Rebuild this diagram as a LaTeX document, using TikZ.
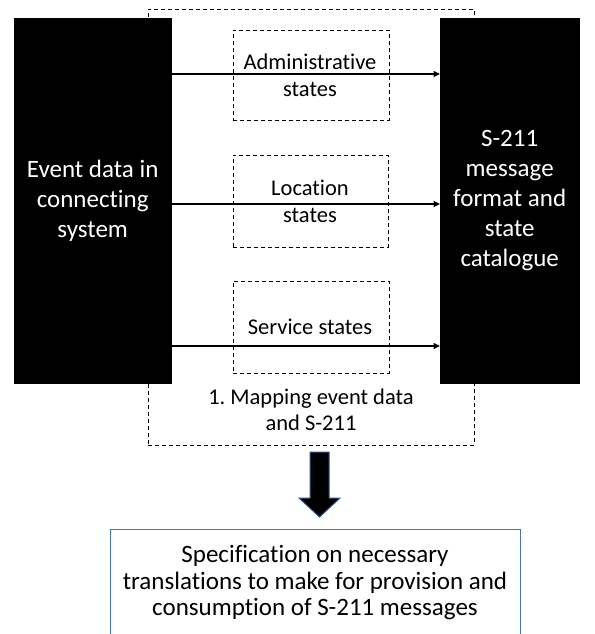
\documentclass[tikz,border=0pt]{standalone}
\usepackage{fontspec}
\setmainfont{Carlito}[Ligatures={NoCommon,NoDiscretionary,NoRare}]
\usetikzlibrary{arrows.meta}
\definecolor{specblue}{HTML}{4472C4}
\definecolor{arrowedge}{HTML}{2F528F}
\frenchspacing
\begin{document}
\begin{tikzpicture}[x=1pt,y=-1pt,
  blackbox/.style={fill=black,draw=black,text=white,align=center,inner sep=0pt,
    font=\fontsize{25}{30}\selectfont},
  dashbox/.style={draw,dash pattern=on 4pt off 3pt,line width=0.8pt,inner sep=0pt},
  lbl/.style={align=center,inner sep=0pt,font=\fontsize{22.5}{27}\selectfont},
  flow/.style={line width=1.6pt,-{Triangle[length=6.5pt,width=6pt]}}]
\useasboundingbox (0,0) rectangle (594,634);
\clip (0,0) rectangle (594,634);
% outer mapping box
\node[dashbox,minimum width=326pt,minimum height=436pt,anchor=north west] (map) at (148,9) {};
% black boxes
\node[blackbox,minimum width=157pt,minimum height=365pt,anchor=north west] (src) at (14,18)
  {Event data in\\connecting\\system};
\node[blackbox,minimum width=139pt,minimum height=365pt,anchor=north west] (dst) at (440,18)
  {S-211\\message\\format and\\state\\catalogue};
% inner dashed boxes
\node[dashbox,minimum width=156pt,minimum height=90pt,anchor=north west] (adm) at (233,30) {};
\node[dashbox,minimum width=155pt,minimum height=92pt,anchor=north west] (loc) at (233,155) {};
\node[dashbox,minimum width=156pt,minimum height=92pt,anchor=north west] (svc) at (233,281) {};
% labels
\node[lbl] (admtext) at (310,75) {Administrative\\states};
\node[lbl] (loctext) at (310,201.5) {Location\\states};
\node[lbl] (svctext) at (310,327) {Service states};
\node[lbl,font=\fontsize{22.5}{26.5}\selectfont] (maptext) at (311,410) {1. Mapping event data\\and S-211};
% flow arrows
\coordinate (r1) at (0,74);
\coordinate (r2) at (0,204);
\coordinate (r3) at (0,346);
\draw[flow] (src.east |- r1) -- (dst.west |- r1);
\draw[flow] (src.east |- r2) -- (dst.west |- r2);
\draw[flow] (src.east |- r3) -- (dst.west |- r3);
% fat arrow
\draw[fill=black,draw=arrowedge,line width=1pt]
  (310,452) -- (329,452) -- (329,498) -- (340,498) -- (319.5,517) -- (299,498) -- (310,498) -- cycle;
% specification box
\node[draw=specblue,line width=1pt,minimum width=410pt,minimum height=140pt,anchor=north west,inner sep=0pt] (spec) at (110,529) {};
\node[lbl,font=\fontsize{25}{26.5}\selectfont] (spectext) at (315,583)
  {Specification on necessary\\translations to make for provision and\\consumption of S-211 messages};
\end{tikzpicture}
\end{document}
